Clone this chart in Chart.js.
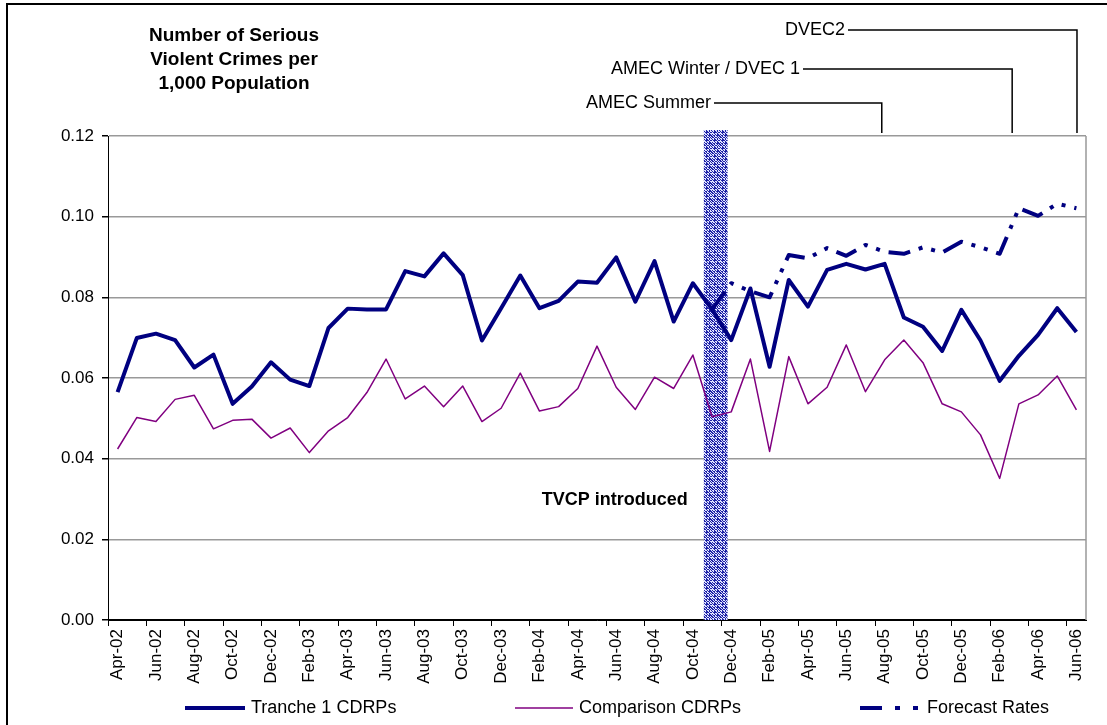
<!DOCTYPE html>
<html>
<head>
<meta charset="utf-8">
<script src="https://cdn.jsdelivr.net/npm/chart.js@4.4.0/dist/chart.umd.min.js"></script>
<style>
  html, body { margin: 0; padding: 0; background: #fff; }
</style>
</head>
<body>
<canvas id="graph" width="1107" height="725"></canvas>
<script>
var monthLabels = [
  'Apr-02', 'May-02', 'Jun-02', 'Jul-02', 'Aug-02', 'Sep-02', 'Oct-02', 'Nov-02', 'Dec-02',
  'Jan-03', 'Feb-03', 'Mar-03', 'Apr-03', 'May-03', 'Jun-03', 'Jul-03', 'Aug-03', 'Sep-03',
  'Oct-03', 'Nov-03', 'Dec-03', 'Jan-04', 'Feb-04', 'Mar-04', 'Apr-04', 'May-04', 'Jun-04',
  'Jul-04', 'Aug-04', 'Sep-04', 'Oct-04', 'Nov-04', 'Dec-04', 'Jan-05', 'Feb-05', 'Mar-05',
  'Apr-05', 'May-05', 'Jun-05', 'Jul-05', 'Aug-05', 'Sep-05', 'Oct-05', 'Nov-05', 'Dec-05',
  'Jan-06', 'Feb-06', 'Mar-06', 'Apr-06', 'May-06', 'Jun-06'
];

var tranche1 = [
  0.0565, 0.0699, 0.0710, 0.0694, 0.0626, 0.0658, 0.0536, 0.0579, 0.0639,
  0.0596, 0.0580, 0.0724, 0.0772, 0.0770, 0.0770, 0.0865, 0.0852, 0.0909,
  0.0855, 0.0693, 0.0773, 0.0854, 0.0773, 0.0791, 0.0839, 0.0836, 0.0899,
  0.0789, 0.0890, 0.0740, 0.0835, 0.0770, 0.0694, 0.0822, 0.0628, 0.0843,
  0.0777, 0.0868, 0.0883, 0.0869, 0.0883, 0.0750, 0.0727, 0.0667, 0.0769,
  0.0693, 0.0593, 0.0655, 0.0707, 0.0773, 0.0714
];

var comparison = [
  0.0424, 0.0502, 0.0492, 0.0547, 0.0557, 0.0474, 0.0495, 0.0498, 0.0451,
  0.0476, 0.0415, 0.0469, 0.0502, 0.0564, 0.0647, 0.0548, 0.0580, 0.0529,
  0.0580, 0.0492, 0.0525, 0.0612, 0.0518, 0.0529, 0.0574, 0.0679, 0.0577,
  0.0522, 0.0602, 0.0574, 0.0657, 0.0504, 0.0516, 0.0647, 0.0418, 0.0653,
  0.0536, 0.0577, 0.0682, 0.0566, 0.0645, 0.0694, 0.0638, 0.0536, 0.0516,
  0.0459, 0.0351, 0.0536, 0.0558, 0.0605, 0.0521
];

// forecast only starts at Nov-04
var forecast = [
  null, null, null, null, null, null, null, null, null,
  null, null, null, null, null, null, null, null, null,
  null, null, null, null, null, null, null, null, null,
  null, null, null, null, 0.0770, 0.0835, 0.0815, 0.0800, 0.0905,
  0.0897, 0.0922, 0.0903, 0.0930, 0.0913, 0.0908, 0.0924, 0.0911, 0.0938,
  0.0924, 0.0908, 0.1021, 0.1002, 0.1032, 0.1021
];

var yTicks = [0, 0.02, 0.04, 0.06, 0.08, 0.10, 0.12];

var titleLines = ['Number of Serious', 'Violent Crimes per', '1,000 Population'];

// TVCP band, in category units
var tvcpLabel = 'TVCP introduced';
var tvcpRange = [30.57, 31.81];

// programme markers, in category units
var markerLabels = ['AMEC Summer', 'AMEC Winter / DVEC 1', 'DVEC2'];
var markerMonths = [39.85, 46.65, 50.03];

var FONT = '"Liberation Sans", Arial, sans-serif';
var NAVY = '#000080';
var PURPLE = '#800080';
var FORECAST_DASH = [22, 9, 4, 9, 4, 9];

function stipple(ctx) {
  var c = document.createElement('canvas');
  c.width = 8;
  c.height = 8;
  var p = c.getContext('2d');
  p.fillStyle = '#dfe2ff';
  p.fillRect(0, 0, 8, 8);
  p.fillStyle = '#1e22a6';
  for (var yy = 0; yy < 8; yy++) {
    for (var xx = 0; xx < 8; xx++) {
      if ((xx * 5 + yy * 3 + ((xx * yy) % 3)) % 8 < 4) {
        p.fillRect(xx, yy, 1, 1);
      }
    }
  }
  return ctx.createPattern(c, 'repeat');
}

var overlayPlugin = {
  id: 'overlay',
  beforeDatasetsDraw: function(chart) {
    var ctx = chart.ctx;
    var area = chart.chartArea;
    var xs = chart.scales.x;

    ctx.save();
    // TVCP band sits over the grid but under the lines
    var x0 = xs.getPixelForValue(tvcpRange[0]);
    var x1 = xs.getPixelForValue(tvcpRange[1]);
    ctx.fillStyle = stipple(ctx);
    ctx.fillRect(x0, area.top - 6, x1 - x0, area.bottom - area.top + 6);

    // grey right edge of the plot area
    ctx.strokeStyle = '#999';
    ctx.lineWidth = 1.5;
    ctx.beginPath();
    ctx.moveTo(area.right, area.top);
    ctx.lineTo(area.right, area.bottom);
    ctx.stroke();
    ctx.restore();
  },
  afterDraw: function(chart) {
    var ctx = chart.ctx;
    var area = chart.chartArea;
    var xs = chart.scales.x;
    ctx.save();

    // outer frame
    ctx.strokeStyle = '#000';
    ctx.lineWidth = 2;
    ctx.strokeRect(7, 4, 1300, 900);

    // title
    ctx.fillStyle = '#000';
    ctx.font = 'bold 19px ' + FONT;
    ctx.textAlign = 'center';
    ctx.textBaseline = 'middle';
    titleLines.forEach(function(line, i) {
      ctx.fillText(line, 234, 36 + i * 24);
    });

    // TVCP label
    var x0 = xs.getPixelForValue(tvcpRange[0]);
    ctx.font = 'bold 18px ' + FONT;
    ctx.textAlign = 'right';
    ctx.fillText(tvcpLabel, x0 - 16, 500);

    // programme markers
    var textRight = [711, 800, 845];
    var textY = [103, 69, 30];
    ctx.font = '18px ' + FONT;
    ctx.lineWidth = 1.5;
    ctx.strokeStyle = '#000';
    markerLabels.forEach(function(label, i) {
      var mx = xs.getPixelForValue(markerMonths[i]);
      ctx.textAlign = 'right';
      ctx.fillText(label, textRight[i], textY[i]);
      ctx.beginPath();
      ctx.moveTo(textRight[i] + 3, textY[i]);
      ctx.lineTo(mx, textY[i]);
      ctx.lineTo(mx, area.top - 3);
      ctx.stroke();
    });

    // legend
    var sampleX = [185, 515, 860];
    var sampleW = [60, 58, 61];
    var legendY = 708;
    ctx.font = '18px ' + FONT;
    ctx.textAlign = 'left';
    chart.data.datasets.forEach(function(ds, i) {
      ctx.beginPath();
      ctx.strokeStyle = ds.borderColor;
      ctx.lineWidth = ds.borderWidth;
      ctx.setLineDash(ds.borderDash ? [22, 13, 5, 13, 5, 13] : []);
      ctx.moveTo(sampleX[i], legendY);
      ctx.lineTo(sampleX[i] + sampleW[i], legendY);
      ctx.stroke();
      ctx.setLineDash([]);
      ctx.fillStyle = '#000';
      ctx.fillText(ds.label, sampleX[i] + sampleW[i] + 6, legendY);
    });

    ctx.restore();
  }
};

var ctx = document.getElementById('graph').getContext('2d');
var chart = new Chart(ctx, {
  type: 'line',
  data: {
    labels: monthLabels,
    datasets: [{
      label: 'Tranche 1 CDRPs',
      data: tranche1,
      borderColor: NAVY,
      borderWidth: 4,
      borderJoinStyle: 'round'
    }, {
      label: 'Comparison CDRPs',
      data: comparison,
      borderColor: PURPLE,
      borderWidth: 1.5,
      borderJoinStyle: 'round'
    }, {
      label: 'Forecast Rates',
      data: forecast,
      borderColor: NAVY,
      borderWidth: 4,
      borderDash: FORECAST_DASH,
      borderJoinStyle: 'round'
    }]
  },
  options: {
    responsive: false,
    animation: false,
    layout: { padding: { top: 136, right: 21, left: 0, bottom: 0 } },
    elements: {
      point: { radius: 0, hoverRadius: 0 },
      line: { tension: 0 }
    },
    plugins: {
      legend: { display: false },
      title: { display: false },
      tooltip: { enabled: false }
    },
    scales: {
      x: {
        offset: true,
        grid: {
          offset: true,
          drawOnChartArea: false,
          tickLength: 6,
          tickColor: function(c) { return c.index % 2 === 0 ? '#000' : 'rgba(0,0,0,0)'; }
        },
        border: { display: true, color: '#000', width: 1 },
        ticks: {
          autoSkip: false,
          minRotation: 90,
          maxRotation: 90,
          padding: 3,
          color: '#000',
          font: { family: FONT, size: 17 },
          callback: function(value, index) {
            return index % 2 === 0 ? monthLabels[index] : '';
          }
        },
        afterFit: function(scale) { scale.height = 105; }
      },
      y: {
        min: yTicks[0],
        max: yTicks[yTicks.length - 1],
        afterBuildTicks: function(scale) {
          scale.ticks = yTicks.map(function(v) { return { value: v }; });
        },
        grid: {
          color: function(c) { return c.tick && c.tick.value === 0 ? '#000' : '#999'; },
          lineWidth: 1.5,
          tickColor: '#000',
          tickLength: 6
        },
        border: { display: true, color: '#000', width: 1 },
        ticks: {
          padding: 8,
          color: '#000',
          font: { family: FONT, size: 17 },
          callback: function(v) { return Number(v).toFixed(2); }
        },
        afterFit: function(scale) { scale.width = 108; }
      }
    }
  },
  plugins: [overlayPlugin]
});
</script>
</body>
</html>
